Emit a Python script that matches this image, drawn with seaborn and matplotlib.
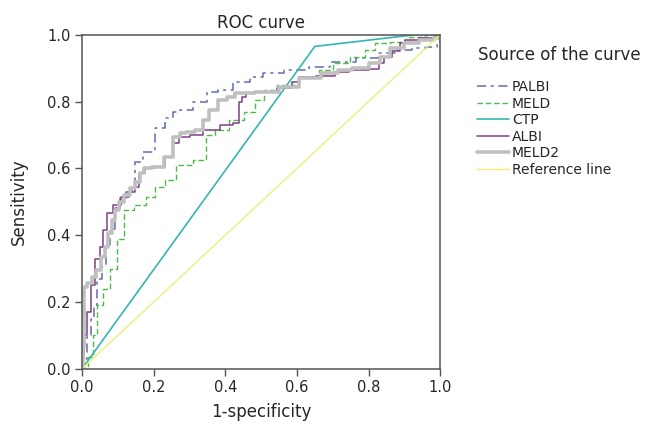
import matplotlib
matplotlib.use("Agg")
import matplotlib.pyplot as plt
import numpy as np
import pandas as pd
import seaborn as sns

# ROC points (1-specificity, sensitivity)
palbi_fpr = [0, 0.008, 0.02, 0.03, 0.036, 0.05, 0.06, 0.073, 0.084, 0.098, 0.115, 0.13,
             0.148, 0.15, 0.19, 0.218, 0.246, 0.26, 0.29, 0.33, 0.366, 0.394, 0.45, 0.49,
             0.52, 0.61, 0.656, 0.73, 0.8, 0.85, 0.9, 0.94, 0.98, 1.0, 1.0]
palbi_tpr = [0, 0.03, 0.1, 0.15, 0.19, 0.27, 0.31, 0.37, 0.42, 0.48, 0.51, 0.53,
             0.54, 0.62, 0.65, 0.72, 0.75, 0.77, 0.775, 0.8, 0.83, 0.835, 0.858, 0.874,
             0.886, 0.895, 0.904, 0.919, 0.931, 0.946, 0.955, 0.961, 0.964, 0.97, 1.0]

meld_fpr = [0, 0.01, 0.022, 0.04, 0.045, 0.07, 0.087, 0.106, 0.128, 0.165, 0.19, 0.218,
            0.246, 0.28, 0.34, 0.35, 0.39, 0.433, 0.469, 0.497, 0.517, 0.573, 0.637,
            0.684, 0.72, 0.777, 0.804, 0.832, 0.888, 0.936, 0.98, 1.0]
meld_tpr = [0, 0.01, 0.036, 0.1, 0.19, 0.24, 0.3, 0.39, 0.476, 0.49, 0.515, 0.545,
            0.566, 0.61, 0.626, 0.7, 0.716, 0.746, 0.77, 0.805, 0.835, 0.85, 0.874,
            0.895, 0.916, 0.934, 0.955, 0.976, 0.979, 0.994, 1.0, 1.0]

ctp_fpr = [0, 0.65, 0.93, 1.0]
ctp_tpr = [0, 0.965, 1.0, 1.0]

albi_fpr = [0, 0.003, 0.008, 0.022, 0.028, 0.042, 0.056, 0.064, 0.073, 0.098, 0.12, 0.14,
            0.154, 0.162, 0.19, 0.218, 0.246, 0.26, 0.282, 0.32, 0.358, 0.41, 0.433,
            0.441, 0.455, 0.46, 0.517, 0.573, 0.6, 0.609, 0.7, 0.712, 0.777, 0.824,
            0.832, 0.852, 0.88, 0.897, 0.908, 0.975, 1.0, 1.0]
albi_tpr = [0, 0.036, 0.1, 0.17, 0.25, 0.33, 0.365, 0.416, 0.467, 0.49, 0.515, 0.53,
            0.545, 0.587, 0.602, 0.605, 0.635, 0.677, 0.695, 0.7, 0.716, 0.73, 0.737,
            0.8, 0.815, 0.826, 0.829, 0.841, 0.86, 0.874, 0.877, 0.888, 0.893, 0.897,
            0.916, 0.932, 0.952, 0.976, 0.985, 0.991, 0.995, 1.0]

meld2_fpr = [0, 0.003, 0.008, 0.022, 0.036, 0.045, 0.059, 0.07, 0.078, 0.087, 0.1, 0.106,
             0.126, 0.142, 0.156, 0.168, 0.18, 0.21, 0.246, 0.265, 0.282, 0.3, 0.33,
             0.344, 0.366, 0.394, 0.413, 0.441, 0.525, 0.573, 0.637, 0.7, 0.729, 0.777,
             0.824, 0.841, 0.88, 0.916, 0.964, 1.0, 1.0]
meld2_tpr = [0, 0.066, 0.246, 0.257, 0.275, 0.296, 0.335, 0.365, 0.407, 0.446, 0.476, 0.5,
             0.52, 0.54, 0.56, 0.587, 0.602, 0.605, 0.635, 0.695, 0.707, 0.71, 0.716,
             0.746, 0.775, 0.805, 0.814, 0.826, 0.829, 0.844, 0.87, 0.886, 0.895, 0.901,
             0.916, 0.934, 0.961, 0.976, 0.985, 0.99, 1.0]

ref_fpr = [0, 1]
ref_tpr = [0, 1]

curves = [
    ("PALBI", palbi_fpr, palbi_tpr, dict(color="#5f6db3", lw=1.1, dashes=(6, 3, 2, 3), drawstyle="steps-mid")),
    ("MELD", meld_fpr, meld_tpr, dict(color="#4cbb4c", lw=1.0, dashes=(4, 2), drawstyle="steps-mid")),
    ("CTP", ctp_fpr, ctp_tpr, dict(color="#35b5b0", lw=1.2)),
    ("ALBI", albi_fpr, albi_tpr, dict(color="#7f3f86", lw=1.1, drawstyle="steps-mid")),
    ("MELD2", meld2_fpr, meld2_tpr, dict(color="#c0c0c0", lw=2.6, drawstyle="steps-mid")),
    ("Reference line", ref_fpr, ref_tpr, dict(color="#eeee78", lw=1.0)),
]

sns.set_style("white")
plt.rcParams['font.family'] = ['DejaVu Sans']

fig = plt.figure(figsize=(6.61, 4.34), dpi=100)
ax = fig.add_axes([0.124, 0.15, 0.542, 0.77])

for name, fpr, tpr, style in curves:
    df = pd.DataFrame({"fpr": fpr, "tpr": tpr})
    sns.lineplot(data=df, x="fpr", y="tpr", ax=ax, sort=False, estimator=None,
                 label=name, **style)

ax.set_xlim(0, 1)
ax.set_ylim(0, 1)
ticks = np.arange(0, 1.01, 0.2)
ax.set_xticks(ticks)
ax.set_yticks(ticks)
ax.set_xticklabels([f"{t:.1f}" for t in ticks], fontsize=10.5)
ax.set_yticklabels([f"{t:.1f}" for t in ticks], fontsize=10.5)
ax.tick_params(axis="both", direction="out", length=5, width=1, color="#555555",
               bottom=True, left=True, pad=3)
for sp in ax.spines.values():
    sp.set_color("#555555")
    sp.set_linewidth(1.1)

ax.set_xlabel("1-specificity", fontsize=12, labelpad=6)
ax.set_ylabel("Sensitivity", fontsize=12, labelpad=14)
ax.set_title("ROC curve", fontsize=12, pad=5)

handles, labels = ax.get_legend_handles_labels()
ax.get_legend().remove()
fig.text(0.723, 0.873, "Source of the curve", fontsize=12, va="center", ha="left")
fig.legend(handles, labels, loc="upper left", bbox_to_anchor=(0.722, 0.815),
           frameon=False, fontsize=10, labelspacing=0.18, handlelength=2.3,
           handletextpad=0.2, borderpad=0, borderaxespad=0)

fig.savefig("out.png", dpi=100)
